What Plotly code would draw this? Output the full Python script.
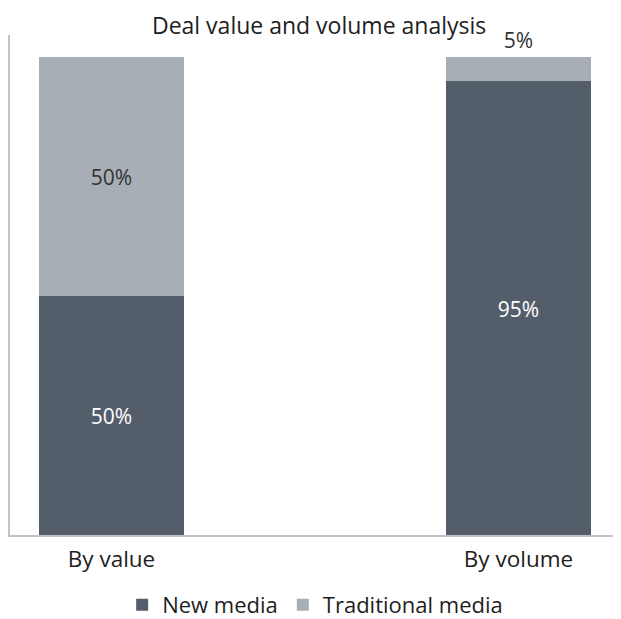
import plotly.graph_objects as go

categories = ["By value", "By volume"]
new_media = [50, 95]
traditional_media = [50, 5]
new_labels = ["50%", "95%"]
trad_labels = ["50%", "5%"]

DARK = "#545e6a"
LIGHT = "#a7aeb5"
FONT = "Open Sans, sans-serif"
TXT = "#1e1e1e"
AXIS = "#bfc3c7"

fig = go.Figure()
fig.add_trace(go.Bar(
    x=categories, y=new_media, name="New media",
    marker=dict(color=DARK, line=dict(width=0)),
    text=new_labels, textposition="inside", insidetextanchor="middle",
    textfont=dict(color="white", size=22, family=FONT),
))
fig.add_trace(go.Bar(
    x=categories, y=traditional_media, name="Traditional media",
    marker=dict(color=LIGHT, line=dict(width=0)),
    text=trad_labels, textposition=["inside", "outside"], insidetextanchor="middle",
    textfont=dict(color="#333333", size=22, family=FONT),
    outsidetextfont=dict(color="#333333", size=21, family=FONT),
    cliponaxis=False,
))

fig.update_layout(
    width=621, height=619,
    barmode="stack", bargap=0.644,
    plot_bgcolor="rgba(0,0,0,0)", paper_bgcolor="white",
    font=dict(family=FONT, size=22.5, color=TXT),
    title=dict(text="Deal value and volume analysis", x=0.501, xanchor="center",
               y=0.971, yanchor="middle", font=dict(size=23, color=TXT)),
    margin=dict(l=2, r=0, t=27, b=92),
    xaxis=dict(range=[-0.2494, 1.2715], showline=True, linecolor=AXIS, linewidth=2,
               ticks="", showgrid=False, tickfont=dict(size=22.5, color=TXT),
               ticklabelstandoff=3),
    yaxis=dict(range=[0, 104.6], showline=True, linecolor=AXIS, linewidth=2,
               showticklabels=False, ticks="", showgrid=False, zeroline=False),
    legend=dict(orientation="h", x=0.493, xanchor="center", y=-0.14, yanchor="middle",
                font=dict(size=22, color=TXT), traceorder="normal"),
    uniformtext=dict(mode="show", minsize=10),
)

fig.write_html("out.html")
